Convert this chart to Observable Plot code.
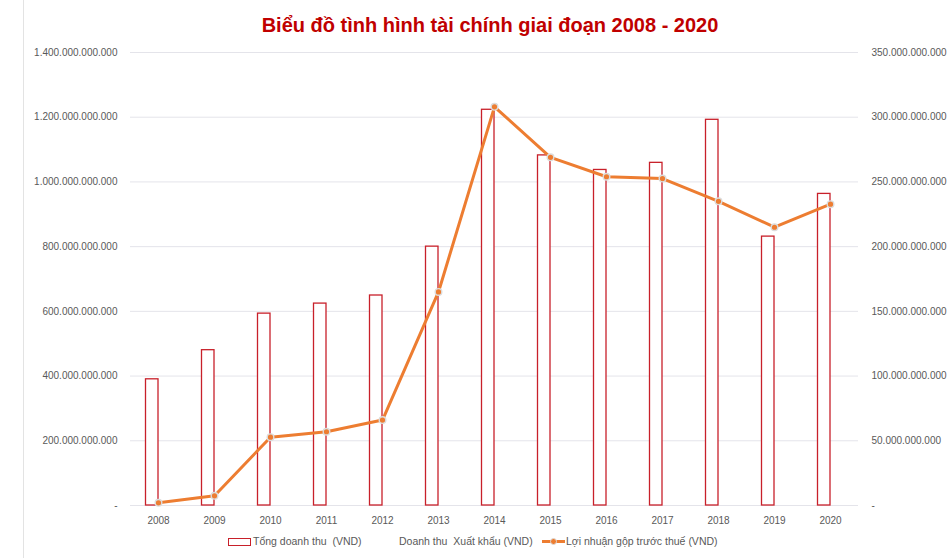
<!DOCTYPE html>
<html>
<head>
<meta charset="utf-8">
<script src="https://cdn.jsdelivr.net/npm/d3@7"></script>
<script src="https://cdn.jsdelivr.net/npm/@observablehq/plot@0.6"></script>
<style>
  html, body { margin: 0; padding: 0; background: #fff; }
  #wrap { position: relative; width: 950px; height: 558px; overflow: hidden; font-family: "Liberation Sans", Arial, sans-serif; }
  #border { position: absolute; left: 23px; top: 0; width: 1px; height: 558px; background: #e3e3e3; }
  #title { position: absolute; left: 30px; top: 0; width: 920px; height: 48px; line-height: 50px; text-align: center; font-size: 20px; font-weight: bold; color: #C00000; }
  #chart { position: absolute; left: 0; top: 40px; }
  .lg { position: absolute; font-size: 10.5px; color: #595959; top: 534px; line-height: 14px; white-space: pre; }
</style>
</head>
<body>
<div id="wrap">
  <div id="border"></div>
  <div id="title">Biểu đồ tình hình tài chính giai đoạn 2008 - 2020</div>
  <div id="chart"></div>
  <div id="legend"></div>
</div>
<script>
const years = ["2008","2009","2010","2011","2012","2013","2014","2015","2016","2017","2018","2019","2020"];
const tongDoanhThu = [390e9, 480e9, 593e9, 624e9, 649e9, 800e9, 1223e9, 1082e9, 1037e9, 1059e9, 1192e9, 831e9, 963e9];
const loiNhuanGop = [2.1e9, 7.5e9, 52.8e9, 57e9, 66e9, 165e9, 308e9, 269e9, 254e9, 252.6e9, 235e9, 215e9, 232.8e9];
const leftTicks = [0, 200e9, 400e9, 600e9, 800e9, 1000e9, 1200e9, 1400e9];
const rightTicks = [0, 50e9, 100e9, 150e9, 200e9, 250e9, 300e9, 350e9];
const legendLabels = ["Tổng doanh thu  (VND)", "Doanh thu  Xuất khẩu (VND)", "Lợi nhuận gộp trước thuế (VND)"];

const ratio = 1400e9 / 350e9;
const loc = d3.formatLocale({decimal: ",", thousands: ".", grouping: [3], currency: ["", ""]});
const f = loc.format(",.0f");
const fmt = v => v === 0 ? "-" : f(v);

const barData = years.map((y, i) => ({year: y, value: tongDoanhThu[i]}));
const lineData = years.map((y, i) => ({year: y, value: loiNhuanGop[i]}));

const chart = Plot.plot({
  width: 950,
  height: 490,
  marginLeft: 130,
  marginRight: 92,
  marginTop: 12,
  marginBottom: 25,
  style: {fontFamily: "Liberation Sans, Arial, sans-serif", fontSize: "10px", color: "#595959", background: "transparent"},
  x: {type: "band", domain: years, padding: 0},
  y: {domain: [0, 1400e9]},
  marks: [
    Plot.gridY(leftTicks, {stroke: "#e4e4ea", strokeOpacity: 1, strokeWidth: 1}),
    Plot.axisY({ticks: leftTicks, anchor: "left", tickSize: 0, tickPadding: 13, tickFormat: fmt, label: null, fill: "#595959"}),
    Plot.axisY({ticks: rightTicks.map(v => v * ratio), anchor: "right", tickSize: 0, tickPadding: 13, tickFormat: v => fmt(v / ratio), label: null, fill: "#595959", textAnchor: "start"}),
    Plot.axisX({tickSize: 0, tickPadding: 11, label: null, fill: "#595959"}),
    Plot.barY(barData, {x: "year", y: "value", fill: "#fff", stroke: "#C8202A", strokeWidth: 1.3, insetLeft: 15.5, insetRight: 28}),
    Plot.line(lineData, {x: "year", y: d => d.value * ratio, stroke: "#ED7D31", strokeWidth: 3}),
    Plot.dot(lineData, {x: "year", y: d => d.value * ratio, r: 3.3, fill: "#ED7D31", stroke: "#dcdcdc", strokeWidth: 1.4})
  ]
});
document.getElementById("chart").appendChild(chart);

// Legend
const lg = document.getElementById("legend");
lg.innerHTML = `
  <div style="position:absolute;left:228px;top:538px;width:21px;height:6px;border:1.3px solid #C8202A;background:#fff;"></div>
  <div class="lg" style="left:253px;">${legendLabels[0]}</div>
  <div class="lg" style="left:399px;">${legendLabels[1]}</div>
  <div style="position:absolute;left:542px;top:540px;width:23px;height:3px;background:#ED7D31;"></div>
  <div style="position:absolute;left:550px;top:538px;width:5px;height:5px;border-radius:50%;background:#ED7D31;border:1.3px solid #dcdcdc;"></div>
  <div class="lg" style="left:566px;">${legendLabels[2]}</div>
`;
</script>
</body>
</html>
